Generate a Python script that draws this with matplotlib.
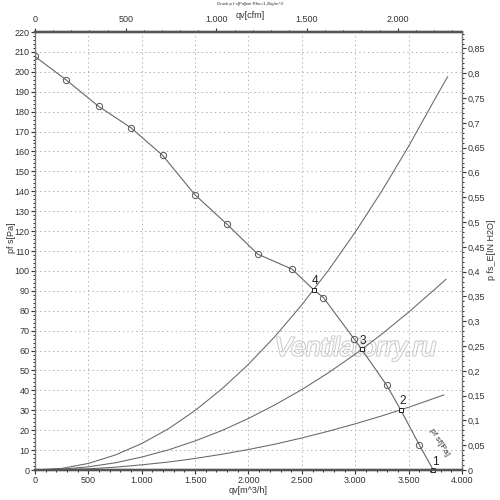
import matplotlib
matplotlib.use("Agg")
import matplotlib.pyplot as plt
import matplotlib.patheffects as pe
from matplotlib.ticker import MultipleLocator, FuncFormatter

# fan curve, measured points (qv m3/h, pf sf Pa)
fan_q = [0, 290, 597, 899, 1196, 1499, 1796, 2087, 2408, 2611, 2702, 2991, 3060, 3294, 3426, 3600, 3731]
fan_p = [207.7, 196.0, 182.6, 171.9, 158.0, 138.2, 123.6, 108.4, 100.9, 90.5, 86.6, 65.7, 60.6, 42.6, 30.2, 12.6, 0.0]
circle_q = [0, 290, 597, 899, 1196, 1499, 1796, 2087, 2408, 2702, 2991, 3294, 3600]
circle_p = [207.7, 196.0, 182.6, 171.9, 158.0, 138.2, 123.6, 108.4, 100.9, 86.6, 65.7, 42.6, 12.6]

# operating points 1..4
op_labels = ["1", "2", "3", "4"]
op_q = [3731, 3426, 3060, 2611]
op_p = [0.0, 30.2, 60.6, 90.5]

# system curves
sys_q = [0, 250, 500, 750, 1000, 1250, 1500, 1750, 2000, 2250, 2500, 2750, 3000, 3250, 3500, 3750]
sys4_p = [0, 0.8, 3.3, 7.5, 13.3, 20.7, 29.9, 40.7, 53.1, 67.2, 83.0, 100.4, 119.5, 140.2, 162.6, 186.7]
sys3_p = [0, 0.4, 1.6, 3.6, 6.5, 10.1, 14.6, 19.8, 25.9, 32.8, 40.4, 48.9, 58.2, 68.3, 79.3, 91.0]
sys2_p = [0, 0.2, 0.6, 1.4, 2.6, 4.0, 5.8, 7.9, 10.3, 13.0, 16.1, 19.5, 23.2, 27.2, 31.5, 36.2]
sys1_p = [0] * len(sys_q)
end_q = [3865, 3850, 3830, 3750]
end_p = [197.5, 95.8, 37.7, 0]

PA_PER_INH2O = 249.089
M3H_PER_CFM = 1.699

line_col = "#666666"
grid_col = "#b4b4b4"
txt_col = "#333333"
fs = 6.5

plt.rcParams["font.family"] = ["Liberation Sans", "DejaVu Sans"]


def de_fmt(v, pos=None):
    # german style numbers: 1.000 and 0,25
    if abs(v) < 1e-9:
        return "0"
    if abs(v - round(v)) < 1e-9:
        return "{:,}".format(int(round(v))).replace(",", ".")
    return ("%.2f" % v).rstrip("0").replace(".", ",")


fig = plt.figure(figsize=(5, 5), dpi=100)
ax = fig.add_axes([0.07, 0.06, 0.854, 0.876])

# watermark
ax.text(3000, 61, "Ventilatorry.ru", fontsize=19, style="italic", color="white",
        ha="center", va="center",
        path_effects=[pe.withStroke(linewidth=1.6, foreground="#cfcfcf")], zorder=0.5)

for curve, i in [(sys4_p, 0), (sys3_p, 1), (sys2_p, 2), (sys1_p, 3)]:
    ax.plot(sys_q + [end_q[i]], curve + [end_p[i]], color=line_col, lw=0.75)

ax.plot(fan_q, fan_p, color=line_col, lw=0.8)
ax.plot(circle_q, circle_p, "o", ms=4.5, mfc="none", mec="#555555", mew=0.7)
ax.plot(op_q, op_p, "s", ms=3.5, mfc="white", mec="#222222", mew=0.7,
        clip_on=False, zorder=5)
for lab, q, p in zip(op_labels, op_q, op_p):
    ax.text(q + 15, p + 1.2, lab, fontsize=8.5, color="#222222", ha="center", va="bottom",
            zorder=6)

ax.text(3790, 14, "pf sf[Pa]", fontsize=6, color=txt_col, rotation=-58,
        ha="center", va="center")

ax.set_xlim(0, 4000)
ax.set_ylim(0, 220)
ax.xaxis.set_major_locator(MultipleLocator(500))
ax.xaxis.set_minor_locator(MultipleLocator(100))
ax.yaxis.set_major_locator(MultipleLocator(10))
ax.yaxis.set_minor_locator(MultipleLocator(2))
ax.xaxis.set_major_formatter(FuncFormatter(de_fmt))
ax.grid(True, which="major", color=grid_col, ls=(0, (1.5, 3)), lw=0.7)
ax.tick_params(labelsize=fs, colors=txt_col, length=3, pad=1)
ax.tick_params(which="minor", length=1.5)
ax.set_xlabel("qv[m^3/h]", fontsize=fs, color=txt_col, labelpad=1)

fig.text(0.022, 0.525, "pf s[Pa]", fontsize=fs, color=txt_col, rotation=90,
         ha="center", va="center")

# right axis: inch water column
axr = ax.twinx()
axr.set_ylim(0, 220 / PA_PER_INH2O)
axr.yaxis.set_major_locator(MultipleLocator(0.05))
axr.yaxis.set_minor_locator(MultipleLocator(0.01))
axr.yaxis.set_major_formatter(FuncFormatter(de_fmt))
axr.tick_params(labelsize=fs, colors=txt_col, length=3, pad=1)
axr.tick_params(which="minor", length=1.5)
fig.text(0.984, 0.50, "p fs_E[IN H2O]", fontsize=fs, color=txt_col, rotation=90,
         ha="center", va="center")

# top axis: cfm
axt = ax.twiny()
axt.set_xlim(0, 4000 / M3H_PER_CFM)
axt.xaxis.set_major_locator(MultipleLocator(500))
axt.xaxis.set_minor_locator(MultipleLocator(100))
axt.xaxis.set_major_formatter(FuncFormatter(de_fmt))
axt.tick_params(labelsize=fs, colors=txt_col, length=3, pad=3)
axt.tick_params(which="minor", length=1.5)
fig.text(0.5, 0.970, "qv[cfm]", fontsize=fs, color=txt_col, ha="center", va="center")

for a in (ax, axr, axt):
    for side in ("left", "right"):
        a.spines[side].set_color("#777777")
        a.spines[side].set_linewidth(0.8)
    for side in ("top", "bottom"):
        a.spines[side].set_color("#555555")
        a.spines[side].set_linewidth(1.6)

fig.text(0.5, 0.997, "Druck p f s[Pa]bei Rho=1,2kg/m^3", fontsize=3.2,
         color=txt_col, ha="center", va="top")

fig.savefig("out.png", dpi=100, facecolor="white")
